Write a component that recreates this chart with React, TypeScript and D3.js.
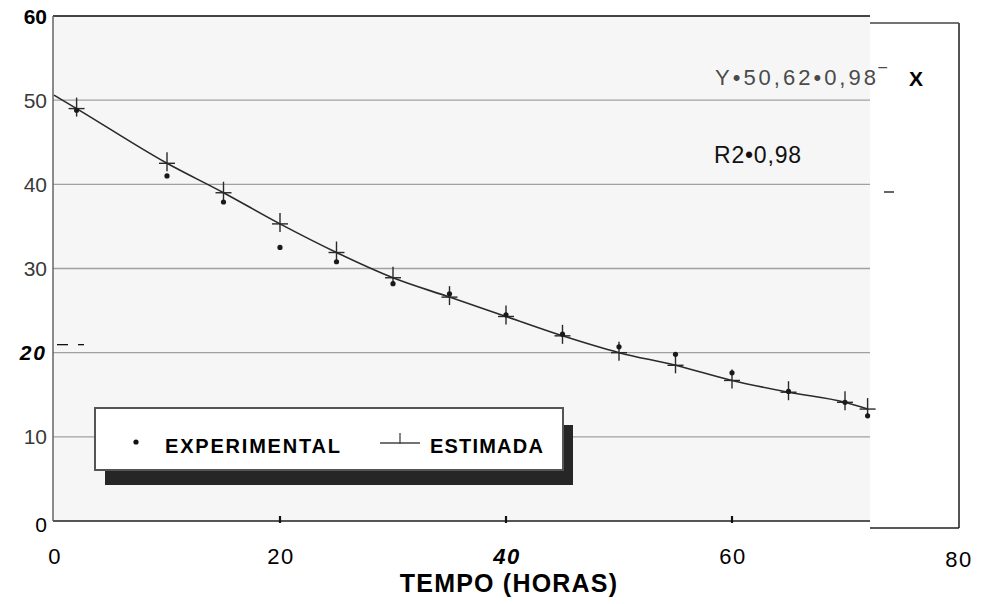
import React from "react";
import * as d3 from "d3";

// Hours sampled
const hours = [2, 10, 15, 20, 25, 30, 35, 40, 45, 50, 55, 60, 65, 70, 72];
// Measured values
const experimental = [48.8, 41.0, 37.9, 32.5, 30.8, 28.2, 27.0, 24.5, 22.2, 20.7, 19.8, 17.6, 15.4, 14.1, 12.5];
// Fitted curve values at the same hours
const estimated = [49.0, 42.5, 39.0, 35.3, 31.9, 28.9, 26.6, 24.3, 22.0, 20.0, 18.5, 16.7, 15.3, 14.1, 13.3];
// Fitted curve intercept at hour 0
const interceptValue = 50.6;

const yTicks = [0, 10, 20, 30, 40, 50, 60];
const xTicks = [0, 20, 40, 60, 80];

const W = 988;
const H = 604;
const font = "'Liberation Sans', Arial, Helvetica, sans-serif";

export default function App() {
  const x = d3.scaleLinear().domain([0, 80]).range([54, 958]);
  const y = d3.scaleLinear().domain([0, 60]).range([521, 16]);
  const axisX = 53;
  const gridEnd = 870;

  const curvePts: [number, number][] = [[0, interceptValue], ...hours.map((h, i) => [h, estimated[i]] as [number, number])];
  const line = d3
    .line<[number, number]>()
    .x((d) => x(d[0]))
    .y((d) => y(d[1]))
    .curve(d3.curveMonotoneX);

  const yStyle = (t: number) => ({
    weight: t === 60 || t === 20 ? "bold" : "normal",
    italic: t === 20,
    fill: t === 60 || t === 20 || t === 0 ? "#000" : "#3a3a3a",
  });

  const cs = 8; // cross half-size
  return (
    <svg width={W} height={H} style={{ position: "absolute", left: 0, top: 0, background: "#fff" }}>
      {/* plot area */}
      <rect x={axisX} y={y(60)} width={gridEnd - axisX} height={y(0) - y(60)} fill="#f6f6f6" />
      {/* horizontal grid */}
      {yTicks.filter((t) => t > 0 && t < 60).map((t) => (
        <line key={t} x1={axisX} x2={gridEnd} y1={y(t)} y2={y(t)} stroke="#a0a0a0" strokeWidth={1.3} />
      ))}
      {/* frame */}
      <line x1={axisX} x2={gridEnd} y1={y(60)} y2={y(60)} stroke="#444" strokeWidth={2.2} />
      <line x1={gridEnd} x2={959} y1={y(60) + 7} y2={y(60) + 7} stroke="#444" strokeWidth={1.6} />
      <line x1={axisX} x2={axisX} y1={y(60)} y2={y(0)} stroke="#666" strokeWidth={1.5} />
      <line x1={959} x2={959} y1={y(60) + 7} y2={y(0) + 7} stroke="#555" strokeWidth={2} />
      <line x1={axisX} x2={gridEnd} y1={y(0)} y2={y(0)} stroke="#555" strokeWidth={2.2} />
      <line x1={gridEnd} x2={959} y1={y(0) + 7} y2={y(0) + 7} stroke="#222" strokeWidth={1.6} />
      {xTicks.filter((t) => t > 0 && t < 80).map((t) => (
        <line key={t} x1={x(t)} x2={x(t)} y1={y(0) - 5} y2={y(0) + 2} stroke="#111" strokeWidth={2.2} />
      ))}
      {/* stray scan dashes */}
      <line x1={57} x2={68} y1={y(20) - 8} y2={y(20) - 8} stroke="#111" strokeWidth={1.3} />
      <line x1={78} x2={84} y1={y(20) - 8} y2={y(20) - 8} stroke="#111" strokeWidth={1.3} />
      <line x1={884} x2={894} y1={192} y2={192} stroke="#111" strokeWidth={1.3} />

      {/* y tick labels */}
      {yTicks.map((t) => {
        const s = yStyle(t);
        return (
          <text
            key={t}
            x={47}
            y={y(t) + (t === 0 ? 3 : 0)}
            dy="0.36em"
            textAnchor="end"
            fontFamily={font}
            fontSize={21}
            fontWeight={s.weight}
            fontStyle={s.italic ? "italic" : "normal"}
            letterSpacing={s.italic ? 2 : 0}
            fill={s.fill}
          >
            {t}
          </text>
        );
      })}
      {/* x tick labels */}
      {xTicks.map((t) => (
        <text
          key={t}
          x={x(t) + 1}
          y={t === 80 ? 567 : 564}
          textAnchor="middle"
          fontFamily={font}
          fontSize={22}
          fontWeight={t === 40 ? "bold" : "normal"}
          fontStyle={t === 40 ? "italic" : "normal"}
          letterSpacing={1.5}
          fill="#000"
        >
          {t}
        </text>
      ))}
      <text x={509} y={592} textAnchor="middle" fontFamily={font} fontSize={25} fontWeight="bold" letterSpacing={1.2} fill="#000">
        TEMPO  (HORAS)
      </text>

      {/* fitted curve */}
      <path d={line(curvePts) ?? ""} fill="none" stroke="#2a2a2a" strokeWidth={1.6} />
      {hours.map((h, i) => (
        <g key={h} stroke="#2a2a2a" strokeWidth={1.4}>
          <line x1={x(h) - cs} x2={x(h) + cs} y1={y(estimated[i])} y2={y(estimated[i])} />
          <line x1={x(h)} x2={x(h)} y1={y(estimated[i]) - cs - 3} y2={y(estimated[i]) + cs} />
        </g>
      ))}
      {/* measured points */}
      {hours.map((h, i) => (
        <circle key={h} cx={x(h)} cy={y(experimental[i])} r={2.6} fill="#1a1a1a" />
      ))}

      {/* equation */}
      <text x={715} y={85} fontFamily={font} fontSize={22} fill="#4a4a4a" letterSpacing={3}>
        Y•50,62•0,98‾
      </text>
      <text x={909} y={86} fontFamily={font} fontSize={21} fontWeight="bold" fill="#000">
        X
      </text>
      <text x={714} y={163} fontFamily={font} fontSize={23} fill="#111" letterSpacing={0.8}>
        R2•0,98
      </text>

      {/* legend */}
      <rect x={105} y={425} width={468} height={60} fill="#262626" />
      <rect x={95} y={408} width={468} height={62} fill="#fff" stroke="#555" strokeWidth={2} />
      <circle cx={136} cy={442} r={2.6} fill="#111" />
      <text x={165} y={453} fontFamily={font} fontSize={20} fontWeight="bold" letterSpacing={1.8} fill="#000">
        EXPERIMENTAL
      </text>
      <line x1={380} x2={420} y1={443} y2={443} stroke="#444" strokeWidth={1.3} />
      <line x1={400} x2={400} y1={433} y2={444} stroke="#444" strokeWidth={1.3} />
      <text x={430} y={453} fontFamily={font} fontSize={20} fontWeight="bold" letterSpacing={1.2} fill="#000">
        ESTIMADA
      </text>
    </svg>
  );
}
